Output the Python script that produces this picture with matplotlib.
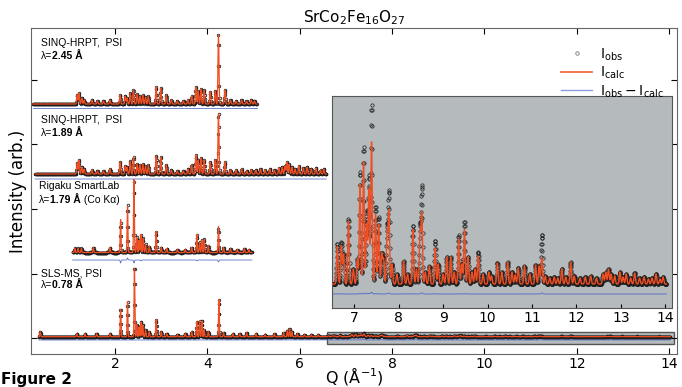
import numpy as np
import matplotlib
matplotlib.use('Agg')
from matplotlib import pyplot as plt
from matplotlib.patches import Rectangle
from matplotlib.lines import Line2D

# peak lists: position Q (1/A) and height (pixels above baseline)
# SINQ-HRPT, lambda = 2.45 A
hrpt245_q = [1.18, 1.22, 1.28, 1.33, 1.50, 1.62, 1.75, 1.89, 2.11, 2.22, 2.26, 2.33, 2.40,
             2.48, 2.54, 2.60, 2.66, 2.72, 2.89, 2.99, 3.11, 3.22, 3.35, 3.48, 3.58, 3.66,
             3.75, 3.80, 3.86, 3.93, 4.06, 4.17, 4.24, 4.38, 4.50, 4.62, 4.74, 4.85, 4.95, 5.02]
hrpt245_h = [9, 11, 6, 4, 4, 3, 3, 4, 9, 8, 6, 11, 14,
             10, 8, 9, 7, 8, 17, 16, 9, 4, 3, 3, 4, 8,
             17, 13, 15, 14, 12, 13, 69, 14, 4, 3, 4, 3, 4, 3]

# SINQ-HRPT, lambda = 1.89 A
hrpt189_q = [1.18, 1.22, 1.28, 1.33, 1.50, 1.62, 1.75, 1.89, 2.11, 2.22, 2.26, 2.33, 2.40,
             2.48, 2.54, 2.60, 2.66, 2.72, 2.89, 2.99, 3.11, 3.22, 3.35, 3.48, 3.58, 3.66,
             3.75, 3.80, 3.86, 3.93, 4.06, 4.17, 4.24, 4.38, 4.50, 4.62, 4.74, 4.85, 4.95,
             5.05, 5.15, 5.25, 5.35, 5.45, 5.55, 5.62, 5.68, 5.72, 5.77, 5.83, 5.90, 5.98,
             6.08, 6.16, 6.25, 6.35, 6.45, 6.52]
hrpt189_h = [11, 14, 7, 5, 4, 3, 3, 5, 12, 8, 7, 13, 17,
             10, 9, 10, 8, 9, 18, 17, 9, 4, 3, 3, 5, 9,
             19, 14, 16, 14, 12, 14, 61, 12, 4, 4, 5, 3, 4,
             4, 5, 4, 5, 4, 6, 7, 8, 12, 10, 7, 5, 8,
             6, 7, 5, 6, 4, 5]

# Rigaku SmartLab, Co K-alpha
rigaku_q = [1.13, 1.20, 1.27, 1.53, 1.89, 2.12, 2.27, 2.41, 2.47, 2.52, 2.56, 2.61, 2.66, 2.74,
            2.89, 3.00, 3.12, 3.35, 3.52, 3.66, 3.77, 3.83, 3.88, 3.93, 4.02, 4.24, 4.35, 4.50,
            4.65, 4.80, 4.90]
rigaku_calc = [4, 4, 4, 5, 5, 33, 46, 73, 15, 12, 18, 14, 8, 6,
               21, 5, 4, 3, 3, 5, 18, 10, 12, 13, 7, 26, 5, 4, 3, 4, 3]
rigaku_obs = [4, 4, 4, 5, 5, 30, 48, 70, 15, 12, 17, 14, 8, 6,
              21, 5, 4, 3, 3, 5, 17, 10, 12, 13, 7, 24, 5, 4, 3, 4, 3]

# SLS-MS, lambda = 0.78 A, low Q part (main panel pixels)
sls_q = [0.38, 1.17, 1.35, 1.60, 1.89, 2.12, 2.27, 2.42, 2.47, 2.52, 2.56, 2.60, 2.66, 2.74,
         2.89, 3.00, 3.12, 3.35, 3.52, 3.66, 3.77, 3.83, 3.88, 3.93, 4.02, 4.25, 4.35, 4.55,
         4.70, 4.85, 5.05, 5.25, 5.45, 5.65, 5.73, 5.78, 5.83, 5.95, 6.10, 6.25, 6.40]
sls_h = [5, 3, 3, 3, 3, 28, 35, 70, 12, 10, 15, 12, 7, 5,
         17, 5, 3, 2, 3, 5, 15, 16, 16, 7, 5, 37, 4, 3,
         3, 4, 3, 2, 3, 4, 6, 8, 5, 3, 2, 2, 2]

# SLS-MS high Q part (inset pixels), calculated and observed heights
hiq_q = [6.62, 6.71, 6.76, 6.87, 6.98, 7.07, 7.13, 7.21, 7.28, 7.33, 7.39, 7.48, 7.55, 7.62,
         7.66, 7.74, 7.78, 7.85, 7.96, 8.11, 8.20, 8.32, 8.40, 8.48, 8.52, 8.60, 8.69, 8.82,
         8.89, 9.00, 9.08, 9.17, 9.25, 9.35, 9.42, 9.48, 9.56, 9.65, 9.72, 9.79, 9.90, 10.03,
         10.09, 10.22, 10.32, 10.45, 10.55, 10.62, 10.69, 10.83, 10.95, 11.08, 11.16, 11.22,
         11.30, 11.40, 11.50, 11.58, 11.67, 11.76, 11.87, 11.95, 12.08, 12.20, 12.32, 12.45,
         12.60, 12.66, 12.72, 12.78, 12.86, 12.98, 13.05, 13.12, 13.22, 13.31, 13.42, 13.52,
         13.62, 13.70, 13.79, 13.88, 13.95]
hiq_calc = [38, 38, 30, 63, 15, 25, 100, 122, 60, 95, 142, 70, 60, 30,
            25, 50, 72, 20, 10, 23, 10, 55, 15, 50, 70, 12, 18, 36,
            20, 10, 27, 27, 12, 45, 20, 55, 27, 12, 15, 28, 10, 12,
            8, 21, 12, 22, 12, 9, 16, 18, 10, 19, 18, 26,
            8, 6, 7, 6, 15, 7, 22, 8, 6, 7, 8, 6,
            10, 12, 15, 10, 8, 12, 7, 10, 6, 11, 6, 7,
            5, 6, 10, 5, 7]
hiq_obs = [40, 42, 30, 65, 15, 25, 112, 137, 73, 108, 179, 78, 67, 30,
           25, 55, 91, 20, 10, 23, 10, 58, 15, 55, 96, 12, 18, 43,
           20, 10, 27, 27, 12, 49, 20, 62, 27, 12, 15, 32, 10, 12,
           8, 21, 12, 22, 12, 9, 16, 18, 10, 19, 18, 49,
           8, 6, 7, 6, 15, 7, 22, 8, 6, 7, 8, 6,
           10, 12, 15, 10, 8, 12, 7, 10, 6, 11, 6, 7,
           5, 6, 10, 5, 7]

labels = ['SINQ-HRPT,  PSI', 'SINQ-HRPT,  PSI', 'Rigaku SmartLab', 'SLS-MS, PSI']
wavelengths = ['2.45 \u00c5', '1.89 \u00c5', '1.79 \u00c5', '0.78 \u00c5']

calc_c = '#f04e23'
obs_c = '#1e1e1e'
diff_c = '#5b73c9'
box_c = '#b5babc'
mag = 50.0


def profile(q, pos, hgt, sig):
    q = np.asarray(q)[:, None]
    return (np.asarray(hgt, float) * np.exp(-0.5 * ((q - np.asarray(pos)) / sig) ** 2)).sum(axis=1)


def draw(ax, q, calc, obs, base, dbase, ms, dscale=1.0):
    ax.plot(q, obs + base, ls='none', marker='o', ms=ms, mfc='none', mec=obs_c, mew=0.6, zorder=2)
    ax.plot(q, calc + base, color=calc_c, lw=0.9, zorder=3)
    ax.plot(q, (obs - calc) * dscale + dbase, color=diff_c, lw=0.6, zorder=2)


fig = plt.figure(figsize=(6.82, 3.87), dpi=100)
ax = fig.add_axes([31 / 682, 33 / 387, 646 / 682, 326 / 387])

# SINQ 2.45
q1 = np.arange(0.22, 5.07, 0.006)
c1 = profile(q1, hrpt245_q, hrpt245_h, 0.011)
draw(ax, q1, c1, c1, 283, 279, 1.8)

# SINQ 1.89
q2 = np.arange(0.27, 6.58, 0.006)
c2 = profile(q2, hrpt189_q, hrpt189_h, 0.011)
draw(ax, q2, c2, c2, 213, 208, 1.8)

# Rigaku
q3 = np.arange(1.08, 4.97, 0.005)
c3 = profile(q3, rigaku_q, rigaku_calc, 0.009)
o3 = profile(q3, rigaku_q, rigaku_obs, 0.009)
draw(ax, q3, c3, o3, 134.5, 127, 1.8)

# SLS
q4 = np.arange(0.35, 14.03, 0.004)
low = profile(q4, sls_q, sls_h, 0.008)
c4 = low + profile(q4, hiq_q, hiq_calc, 0.016) / mag
o4 = low + profile(q4, hiq_q, hiq_obs, 0.016) / mag
draw(ax, q4, c4, o4, 50.3, 47, 1.8)

ax.add_patch(Rectangle((6.6, 43), 7.5, 12, facecolor=box_c, edgecolor='#555555', lw=1, zorder=1))

ax.set_xlim(0.18, 14.17)
ax.set_ylim(33, 359)
ax.set_xticks([2, 4, 6, 8, 10, 12, 14])
ax.set_yticks([49, 113, 178, 243, 307])
ax.tick_params(direction='in', top=True, right=True, length=4, labelsize=10, labelleft=False, pad=2)
for s in ax.spines.values():
    s.set_color('#666666')
ax.set_xlabel('Q (\u00c5$^{-1}$)', fontsize=11.5, labelpad=-4)
ax.set_ylabel('Intensity (arb.)', fontsize=12, labelpad=3)
ax.set_title('SrCo$_2$Fe$_{16}$O$_{27}$', fontsize=11, pad=4)

# instrument labels
txt_y = [(344, 331), (267, 254), (201, 187), (114, 102)]
for i, (ya, yb) in enumerate(txt_y):
    xa = 0.0155 if i != 2 else 0.012
    ax.text(xa, ya, labels[i], transform=ax.get_yaxis_transform(), fontsize=7.5,
            family='Liberation Sans', va='center', ha='left')
    t = ax.text(xa, yb, '\u03bb=', transform=ax.get_yaxis_transform(), fontsize=7.5,
                family='Liberation Sans', va='center', ha='left')
    b = ax.annotate(wavelengths[i], xy=(1, 0), xycoords=t, fontsize=7.5, fontweight='bold',
                    family='Liberation Sans', va='bottom', ha='left')
    if i == 2:
        ax.annotate(' (Co K\u03b1)', xy=(1, 0), xycoords=b, fontsize=7.5,
                    family='Liberation Sans', va='bottom', ha='left')

# inset
ins = fig.add_axes([332 / 682, 79 / 387, 340 / 682, 212 / 387])
ins.set_facecolor(box_c)
ins.plot(q4, o4 * mag + 24, ls='none', marker='o', ms=2.4, mfc='none', mec=obs_c,
         mew=0.5, zorder=2)
ins.plot(q4, c4 * mag + 24, color=calc_c, lw=1.0, zorder=3)
ins.plot(q4, (o4 - c4) * mag * 0.05 + 14, color=diff_c, lw=0.7, zorder=2)
ins.set_xlim(6.5, 14.15)
ins.set_ylim(0, 212)
ins.set_xticks([7, 8, 9, 10, 11, 12, 13, 14])
ins.tick_params(direction='in', left=False, labelleft=False, length=3, labelsize=10, pad=2)
for s in ins.spines.values():
    s.set_color('#555555')

handles = [Line2D([], [], ls='none', marker='o', ms=2.5, mfc='none', mec='#888888', mew=0.7),
           Line2D([], [], color='#f06a48', lw=1.3),
           Line2D([], [], color='#8f9de0', lw=1.0)]
fig.legend(handles, [r'$\mathrm{I_{obs}}$', r'$\mathrm{I_{calc}}$', r'$\mathrm{I_{obs} - I_{calc}}$'],
           loc='upper left', bbox_to_anchor=(0.815, 0.895), frameon=False, fontsize=10,
           labelspacing=0.15, handlelength=2.2, handletextpad=0.6, borderaxespad=0)

fig.text(0.002, 0.0, 'Figure 2', fontsize=11, fontweight='bold', va='bottom', ha='left')

fig.savefig('out.png', dpi=100)
